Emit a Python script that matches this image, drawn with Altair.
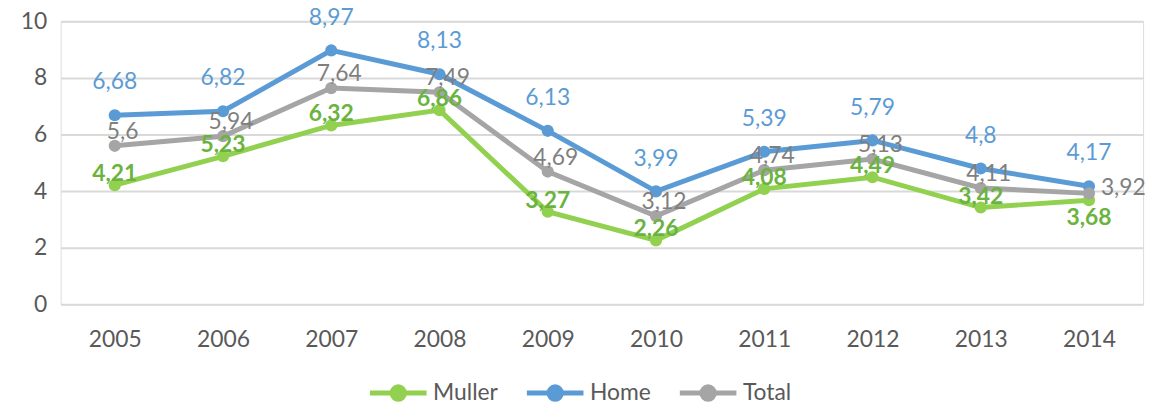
import altair as alt
import pandas as pd

years = ["2005", "2006", "2007", "2008", "2009", "2010", "2011", "2012", "2013", "2014"]
muller = [4.21, 5.23, 6.32, 6.86, 3.27, 2.26, 4.08, 4.49, 3.42, 3.68]
home = [6.68, 6.82, 8.97, 8.13, 6.13, 3.99, 5.39, 5.79, 4.80, 4.17]
total = [5.60, 5.94, 7.64, 7.49, 4.69, 3.12, 4.74, 5.13, 4.11, 3.92]
series_names = ["Muller", "Home", "Total"]
line_colors = ["#92D050", "#5B9BD5", "#A5A5A5"]

rows = []
for name, vals in zip(series_names, [muller, home, total]):
    for y, v in zip(years, vals):
        rows.append({"year": y, "series": name, "value": v})
df = pd.DataFrame(rows)

FONT = "Lato"
FS = 23

legend_path = ("M-1,0L1,0M0.22,0A0.22,0.22,0,1,1,-0.22,0"
               "A0.22,0.22,0,1,1,0.22,0Z")

base = alt.Chart(df).encode(
    x=alt.X("year:O", scale=alt.Scale(type="point", padding=0.5),
            axis=alt.Axis(title=None, labelAngle=0, domain=False, ticks=False,
                          grid=False, labelPadding=24, labelFontSize=FS,
                          labelFont=FONT, labelColor="#595959")),
    y=alt.Y("value:Q", scale=alt.Scale(domain=[0, 10], nice=False),
            axis=alt.Axis(title=None, values=[0, 2, 4, 6, 8, 10], domain=False,
                          ticks=False, gridColor="#D9D9D9", gridWidth=2,
                          labelPadding=14, labelFontSize=FS, labelFont=FONT,
                          labelColor="#595959")),
)

color = alt.Color("series:N",
                  scale=alt.Scale(domain=series_names, range=line_colors),
                  sort=series_names,
                  legend=alt.Legend(title=None, orient="none", direction="horizontal",
                                    legendX=309, legendY=343,
                                    symbolType=legend_path, symbolSize=3249,
                                    symbolStrokeWidth=5, symbolOpacity=1,
                                    labelFont=FONT,
                                    labelFontSize=FS, labelColor="#595959",
                                    labelOffset=4, columnPadding=18))

lines = base.mark_line(strokeWidth=5).encode(color=color)
points = base.mark_point(filled=True, size=150, opacity=1).encode(color=color)

label_expr = "replace(toString(datum.value), '.', ',')"


def labels(name, col, dy, dx=0, bold=False, cond=None, align="center"):
    c = base.transform_filter(alt.datum.series == name)
    if cond is not None:
        c = c.transform_filter(cond)
    return c.transform_calculate(lbl=label_expr).mark_text(
        font=FONT, fontSize=FS, fontWeight="bold" if bold else "normal",
        color=col, dy=dy, dx=dx, align=align
    ).encode(text="lbl:N")


last = "2014"
t_home = labels("Home", "#5B9BD5", -33)
t_total = labels("Total", "#7F7F7F", -14, dx=8, cond=alt.datum.year != last)
t_total_last = labels("Total", "#7F7F7F", -5, dx=12, cond=alt.datum.year == last, align="left")
t_muller = labels("Muller", "#6AB33E", -11, bold=True, cond=alt.datum.year != last)
t_muller_last = labels("Muller", "#6AB33E", 18, bold=True, cond=alt.datum.year == last)

chart = alt.layer(lines, points, t_total, t_total_last, t_muller, t_muller_last, t_home).properties(
    width=1090, height=285,
    autosize=alt.AutoSizeParams(type="none"),
    padding={"left": 53, "top": 12, "right": 13, "bottom": 98},
).configure_view(stroke=None).configure(background="white")

chart.save("out.html", embed_options={"renderer": "svg", "actions": False})
